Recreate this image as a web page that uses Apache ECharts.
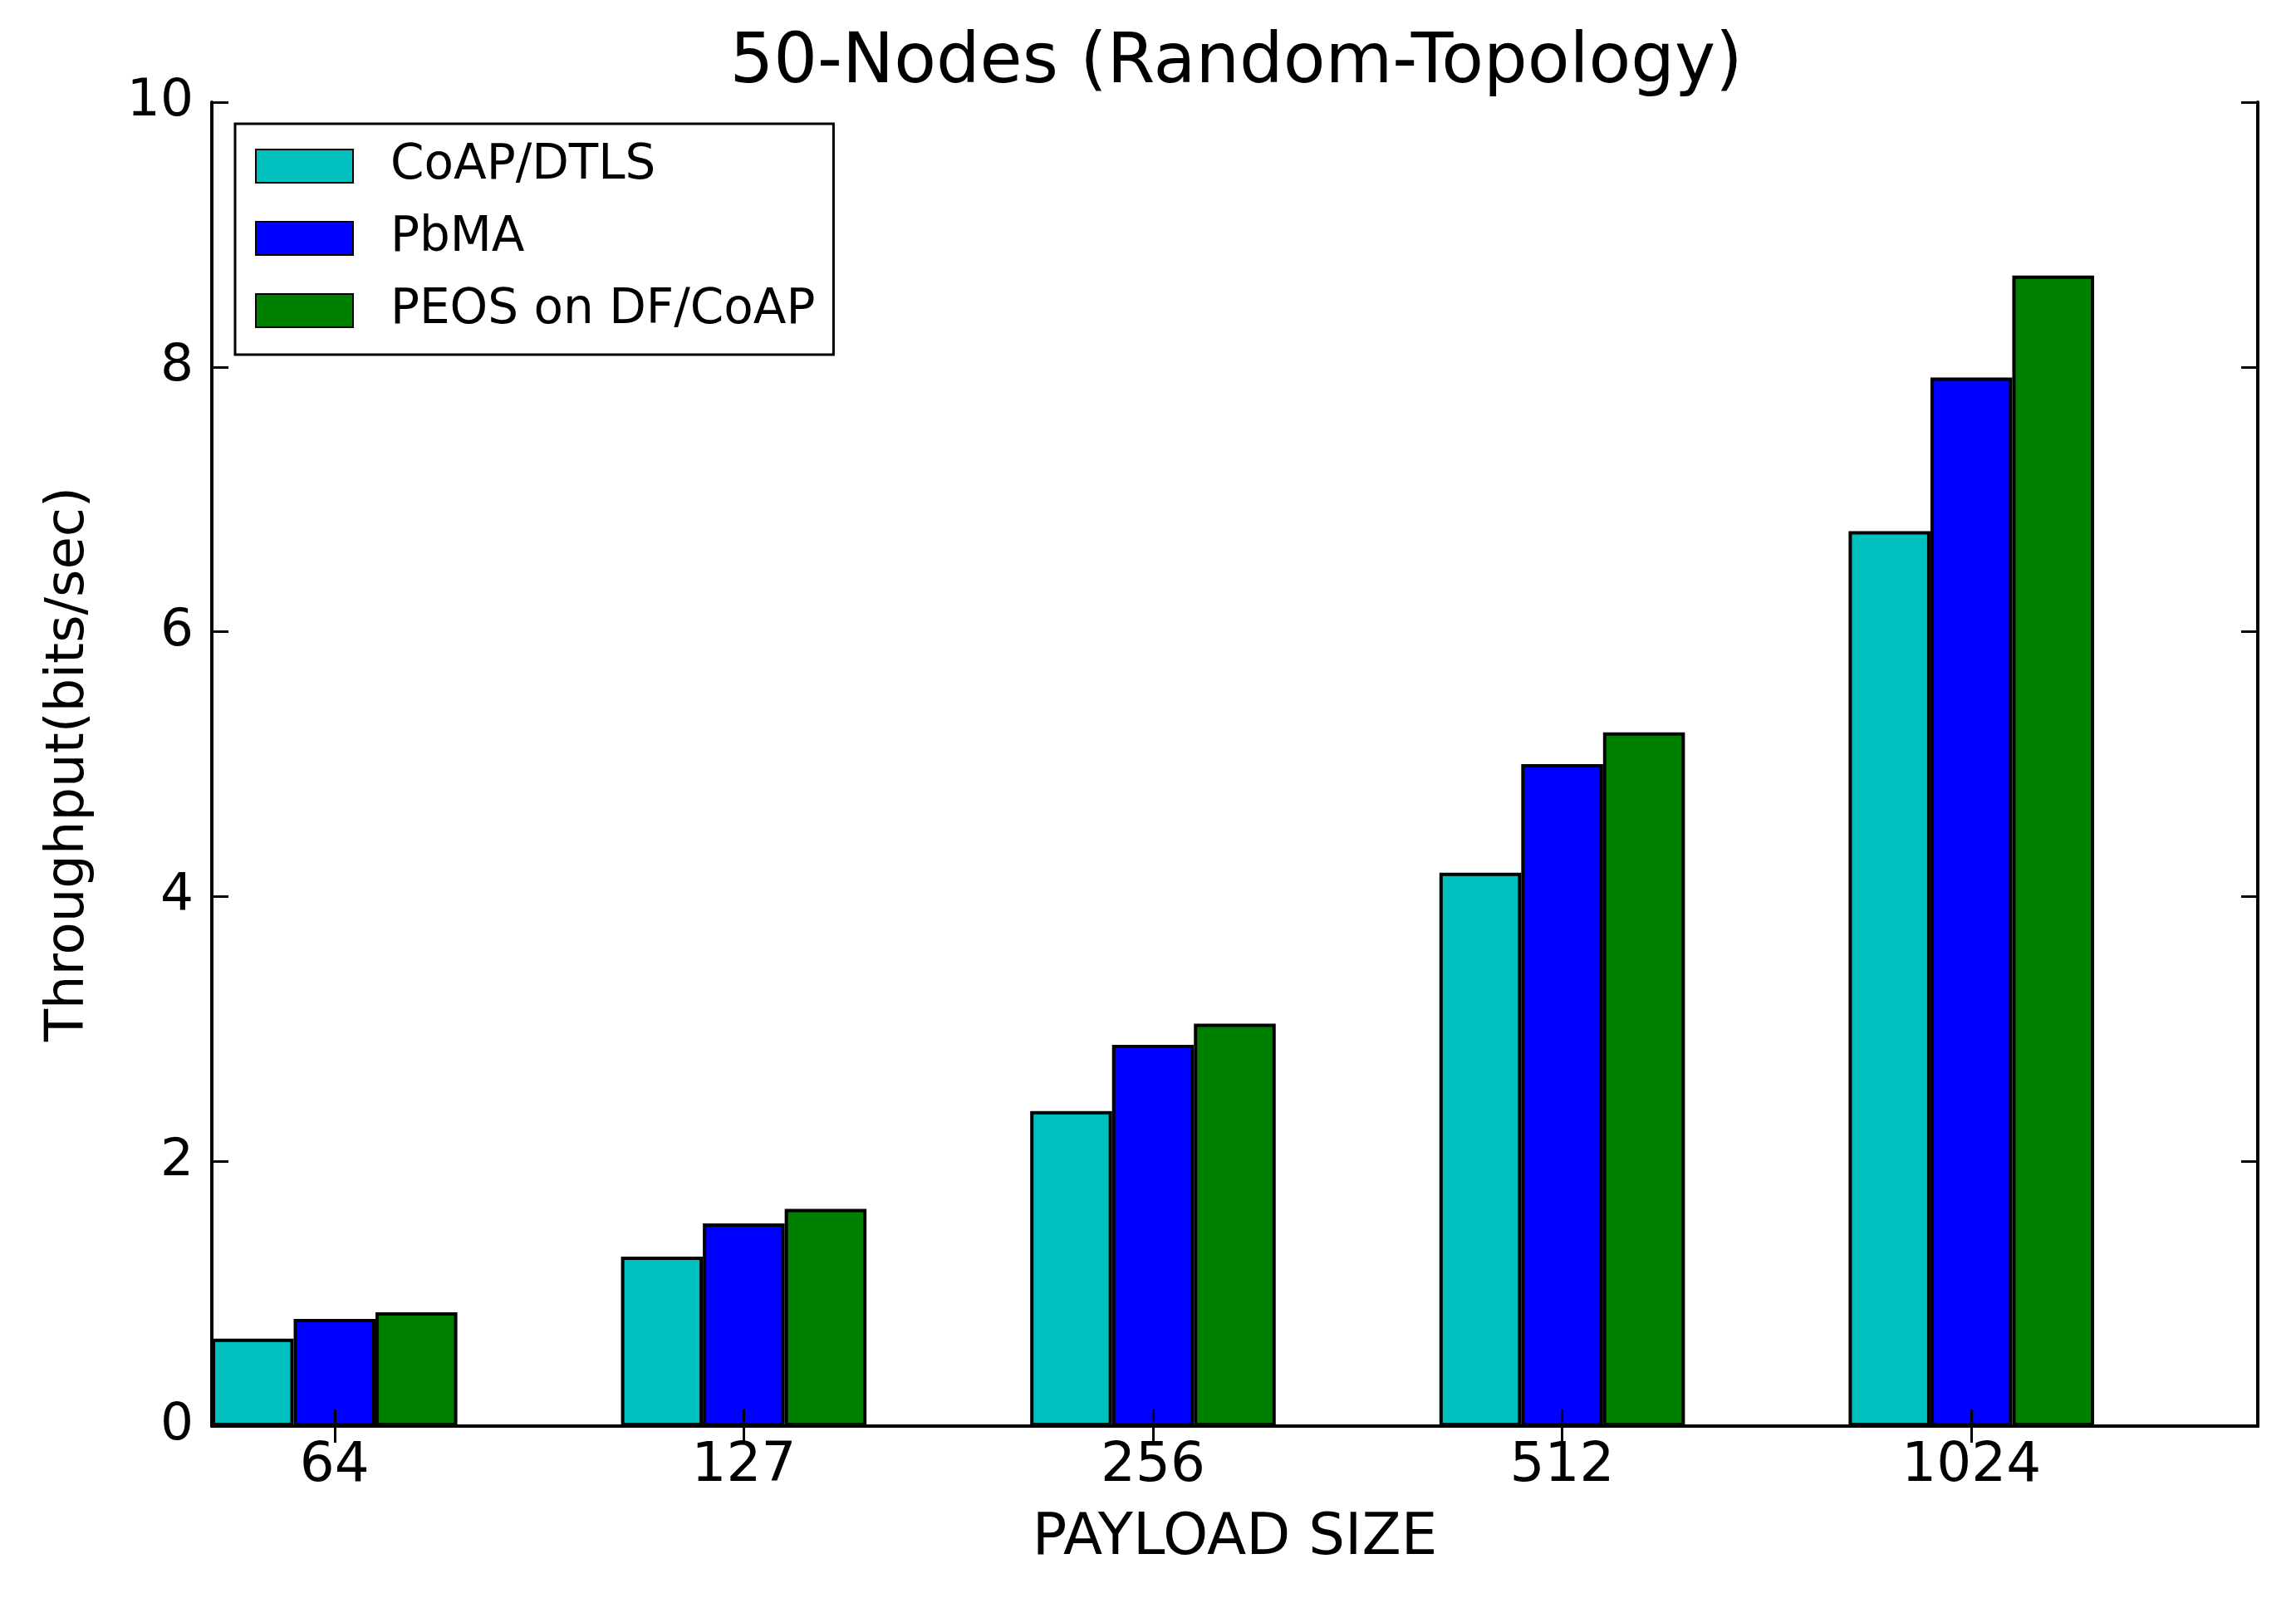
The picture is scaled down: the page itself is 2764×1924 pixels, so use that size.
<!DOCTYPE html>
<html>
<head>
<meta charset="utf-8">
<script src="https://cdn.jsdelivr.net/npm/echarts@6/dist/echarts.min.js"></script>
<style>
html,body{margin:0;padding:0;background:#fff;}
#chart{width:2764px;height:1924px;}
</style>
</head>
<body>
<div id="chart"></div>
<script>
// ---- data ----
var categories = ['64', '127', '256', '512', '1024'];
var seriesNames = ['CoAP/DTLS', 'PbMA', 'PEOS on DF/CoAP'];
var coapDtls = [0.66, 1.28, 2.38, 4.18, 6.76];
var pbma     = [0.81, 1.53, 2.88, 5.00, 7.92];
var peos     = [0.86, 1.64, 3.04, 5.24, 8.69];
var yTicks   = [0, 2, 4, 6, 8, 10];

// each category spans 5 slots (bar, bar, bar, gap, gap); label sits under the 2nd bar
var SLOTS = 5;
var LABEL_SLOT = 1;
var slotLabels = [];
for (var i = 0; i < categories.length; i++) {
  for (var s = 0; s < SLOTS; s++) {
    slotLabels.push(s === LABEL_SLOT ? categories[i] : '');
  }
}
function slotData(values, k) {
  var out = [];
  for (var i = 0; i < values.length; i++) {
    for (var s = 0; s < SLOTS; s++) {
      out.push(s === k ? values[i] : null);
    }
  }
  return out;
}
function isLabelSlot(index) { return index % SLOTS === LABEL_SLOT; }

var FONT = 'DejaVu Sans';
var colors = ['#00BFBF', '#0000FF', '#008000'];
var allValues = [coapDtls, pbma, peos];

var chart = echarts.init(document.getElementById('chart'), null, {renderer: 'canvas'});

var series = allValues.map(function (vals, k) {
  return {
    name: seriesNames[k],
    type: 'bar',
    data: slotData(vals, k),
    barWidth: '100%',
    barGap: '-100%',
    itemStyle: {color: colors[k], borderColor: '#000', borderWidth: 4},
    emphasis: {disabled: true},
    z: 2
  };
});

var axisLineStyle = {color: '#000', width: 4};
var tickStyle = {color: '#000', width: 3};

chart.setOption({
  animation: false,
  backgroundColor: '#fff',
  title: {
    text: '50-Nodes (Random-Topology)',
    left: 1488,
    textAlign: 'center',
    top: 36,
    padding: 0,
    textStyle: {fontFamily: FONT, fontSize: 83, fontWeight: 'normal', color: '#000'}
  },
  legend: {
    orient: 'vertical',
    left: 283,
    top: 149,
    padding: [22, 22, 24, 24],
    itemWidth: 117,
    itemHeight: 40,
    itemGap: 29,
    icon: 'rect',
    borderColor: '#000',
    borderWidth: 3,
    backgroundColor: '#fff',
    data: seriesNames,
    textStyle: {fontFamily: FONT, fontSize: 58, color: '#000', padding: [0, 0, 0, 40]}
  },
  grid: {left: 255, right: 46, top: 123, bottom: 207, containLabel: false},
  xAxis: [{
    type: 'category',
    data: slotLabels,
    position: 'bottom',
    boundaryGap: true,
    name: 'PAYLOAD SIZE',
    nameLocation: 'middle',
    nameGap: 102,
    nameTextStyle: {fontFamily: FONT, fontSize: 69, color: '#000'},
    axisLine: {show: true, lineStyle: axisLineStyle},
    axisTick: {show: true, inside: true, length: 20, alignWithLabel: true, interval: function (idx) { return isLabelSlot(idx); }, lineStyle: tickStyle},
    axisLabel: {show: true, interval: function (idx) { return isLabelSlot(idx); }, margin: 16, fontFamily: FONT, fontSize: 66, color: '#000'},
    splitLine: {show: false},
    z: 10
  }, {
    type: 'category',
    data: slotLabels,
    position: 'top',
    boundaryGap: true,
    axisLine: {show: true, lineStyle: axisLineStyle},
    axisTick: {show: true, inside: true, length: 20, alignWithLabel: true, interval: function (idx) { return isLabelSlot(idx); }, lineStyle: tickStyle},
    axisLabel: {show: false},
    splitLine: {show: false},
    z: 10
  }],
  yAxis: [{
    type: 'value',
    min: yTicks[0],
    max: yTicks[yTicks.length - 1],
    interval: yTicks[1] - yTicks[0],
    position: 'left',
    name: 'Throughput(bits/sec)',
    nameLocation: 'middle',
    nameGap: 140,
    nameRotate: 90,
    nameTextStyle: {fontFamily: FONT, fontSize: 64, color: '#000'},
    axisLine: {show: true, lineStyle: axisLineStyle},
    axisTick: {show: true, inside: true, length: 20, lineStyle: tickStyle},
    axisLabel: {margin: 22, fontFamily: FONT, fontSize: 63, color: '#000'},
    splitLine: {show: false},
    z: 10
  }, {
    type: 'value',
    min: yTicks[0],
    max: yTicks[yTicks.length - 1],
    interval: yTicks[1] - yTicks[0],
    position: 'right',
    axisLine: {show: true, lineStyle: axisLineStyle},
    axisTick: {show: true, inside: true, length: 20, lineStyle: tickStyle},
    axisLabel: {show: false},
    splitLine: {show: false},
    z: 10
  }],
  series: series
});
</script>
</body>
</html>
